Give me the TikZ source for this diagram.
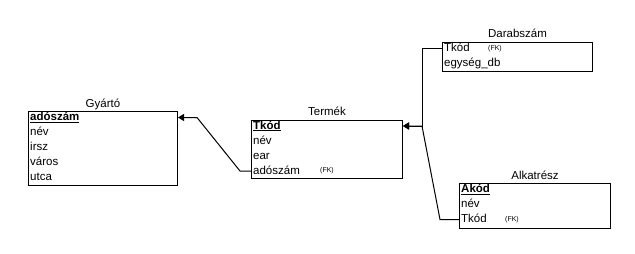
\documentclass[tikz,border=0pt]{standalone}
\usepackage{fontspec}
\setmainfont{Liberation Sans}
\usetikzlibrary{arrows.meta,calc}

\tikzset{
  tabla/.style={draw, line width=1pt, anchor=north west, inner sep=0pt},
  mezo/.style={anchor=west, inner sep=0pt, text height=8pt, text depth=2pt},
  cim/.style={anchor=base, inner sep=0pt, yshift=4pt},
  fk/.style={anchor=west, inner sep=0pt, font=\fontsize{7}{8}\selectfont},
  kapcs/.style={line width=1pt, -{Triangle[length=6pt,width=7pt]}},
}
\newcommand{\kulcs}[1]{\underline{\textbf{#1}}}

\begin{document}
\begin{tikzpicture}[x=1pt, y=-1pt, font=\fontsize{11.5}{13}\selectfont]
    \useasboundingbox (0,0) rectangle (635,254);

    % Gyarto
    \node[tabla, minimum width=149pt, minimum height=74pt] (gyarto) at (28,111) {};
    \node[cim] at (gyarto.north) {Gyártó};
    \node[mezo] (g1) at (30,117.5) {\kulcs{adószám}};
    \node[mezo] (g2) at (30,132.5) {név};
    \node[mezo] (g3) at (30,147.5) {irsz};
    \node[mezo] (g4) at (30,162.5) {város};
    \node[mezo] (g5) at (30,177.5) {utca};

    % Termek
    \node[tabla, minimum width=151pt, minimum height=58pt] (termek) at (251,120) {};
    \node[cim] at (termek.north) {Termék};
    \node[mezo] (t1) at (253,126) {\kulcs{Tkód}};
    \node[mezo] (t2) at (253,141) {név};
    \node[mezo] (t3) at (253,156) {ear};
    \node[mezo] (t4) at (253,171) {adószám};
    \node[fk] at (320,171) {(FK)};

    % Darabszam
    \node[tabla, minimum width=150pt, minimum height=29pt] (darab) at (442,42) {};
    \node[cim] at (darab.north) {Darabszám};
    \node[mezo] (d1) at (444,48.5) {Tkód};
    \node[mezo] (d2) at (444,63.5) {egység\_db};
    \node[fk] at (488,48.5) {(FK)};

    % Alkatresz
    \node[tabla, minimum width=151pt, minimum height=45pt] (alkat) at (459,183) {};
    \node[cim] at (alkat.north) {Alkatrész};
    \node[mezo] (a1) at (461,189.5) {\kulcs{Akód}};
    \node[mezo] (a2) at (461,204.5) {név};
    \node[mezo] (a3) at (461,219.5) {Tkód};
    \node[fk] at (505,219.5) {(FK)};

    % kapcsolatok
    \coordinate (tor1) at (197,117.5);
    \coordinate (csp) at ($(t1 -| termek.east)+(19,0)$);

    \draw[kapcs] (t4 -| termek.west) -- ++(-11,0) -- (tor1) -- (g1 -| gyarto.east);
    \draw[kapcs] (d1 -| darab.west) -- (d1 -| csp) -- (csp) -- (t1 -| termek.east);
    \draw[kapcs] (a3 -| alkat.west) -- ++(-19,0) -- (csp) -- (t1 -| termek.east);
\end{tikzpicture}
\end{document}
